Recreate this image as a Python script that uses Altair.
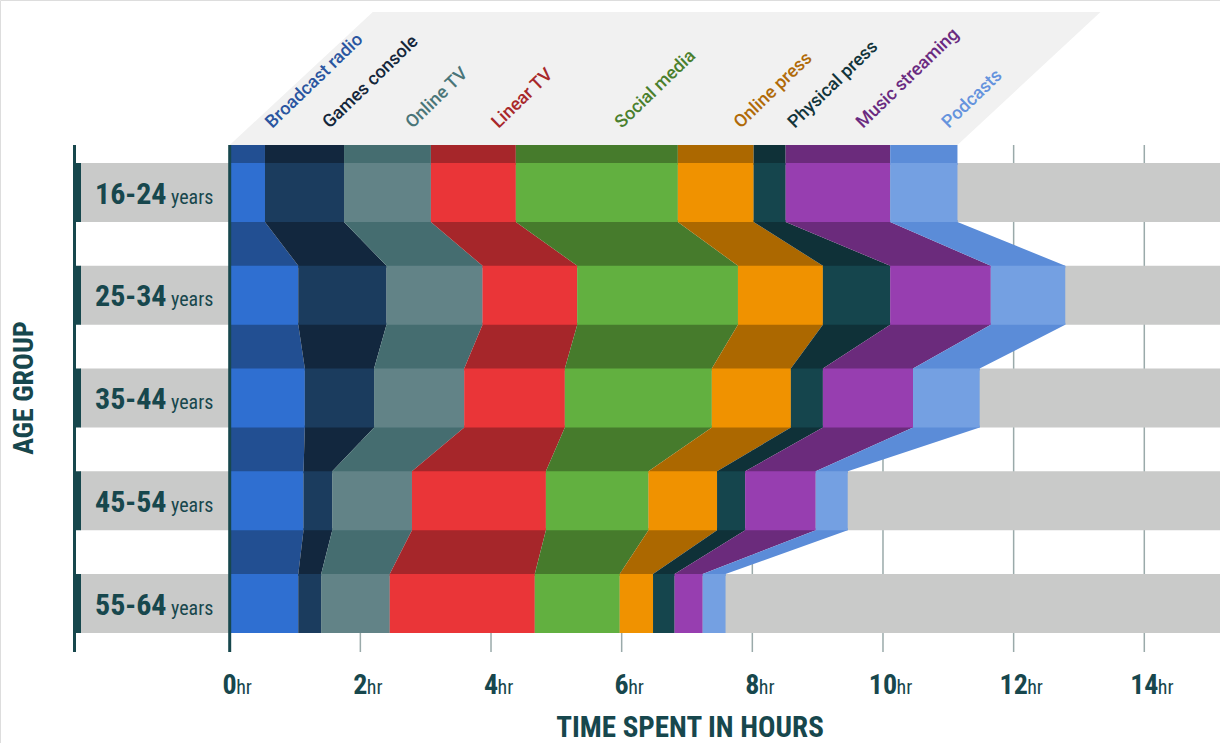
import altair as alt
import numpy as np
import pandas as pd

# ---------------- data ----------------
age_groups = ["16-24", "25-34", "35-44", "45-54", "55-64"]
media = ["Broadcast radio", "Games console", "Online TV", "Linear TV", "Social media",
         "Online press", "Physical press", "Music streaming", "Podcasts"]
# hours per day, one value per age group (16-24 ... 55-64)
broadcast_radio = [0.54, 1.05, 1.15, 1.13, 1.05]
games_console = [1.21, 1.35, 1.06, 0.44, 0.35]
online_tv = [1.33, 1.47, 1.38, 1.22, 1.05]
linear_tv = [1.30, 1.45, 1.54, 2.05, 2.22]
social_media = [2.48, 2.46, 2.25, 1.57, 1.30]
online_press = [1.16, 1.30, 1.21, 1.05, 0.51]
physical_press = [0.49, 1.03, 0.49, 0.43, 0.33]
music_streaming = [1.60, 1.54, 1.38, 1.08, 0.43]
podcasts = [1.03, 1.14, 1.02, 0.49, 0.35]
x_ticks = [0, 2, 4, 6, 8, 10, 12, 14]

series = [broadcast_radio, games_console, online_tv, linear_tv, social_media,
          online_press, physical_press, music_streaming, podcasts]

# ---------------- style ----------------
light = ["#2f6fd1", "#1b3c5e", "#628387", "#ea3538", "#62b040",
         "#f09200", "#15454d", "#973eb0", "#74a0e2"]
dark = ["#224f92", "#12273e", "#456d70", "#a6262a", "#467b2c",
        "#ac6800", "#0f3138", "#6b2b7c", "#5b8cd8"]
label_col = ["#2a55a0", "#14263a", "#4a7578", "#a8282a", "#4a7f2d",
             "#b06a08", "#12343a", "#6a2a80", "#6593dd"]
TEAL = "#17474d"
GRAY_BAR = "#c9cac9"
GRID = "#9aaaaa"
NARROW = "'Liberation Sans Narrow', 'Roboto Condensed', Roboto, sans-serif"

ROW_PX0, ROW_PITCH = 192.5, 102.75
def row_of_px(px):
    return (px - ROW_PX0) / ROW_PITCH

H = 29.5 / ROW_PITCH          # half bar height in row units
TOP = row_of_px(145)          # top of stack
BOTTOM = row_of_px(652)       # bottom of grid/ticks
EPS = 0.02

XS = alt.Scale(domain=[0, 14], range=[229.7, 1144.3], nice=False, zero=False)
YS = alt.Scale(domain=[0, 4], range=[ROW_PX0, ROW_PX0 + 4 * ROW_PITCH], nice=False, zero=False)

vals = np.array(series)                 # (media, age)
ends = np.cumsum(vals, axis=0)
starts = ends - vals

# bars
bar_rows = []
for ci, m in enumerate(media):
    for gi in range(len(age_groups)):
        bar_rows.append(dict(media=m, row=gi, y=gi - H, y2=gi + H,
                             x=float(starts[ci, gi]), x2=float(ends[ci, gi]), c=light[ci]))
bars_df = pd.DataFrame(bar_rows)

# connecting bands
band_rows = []
for ci, m in enumerate(media):
    for g in range(len(age_groups) - 1):
        key = f"{m}-{g}"
        for yy, k in [(g + H - EPS, g), (g + H, g), (g + 1 - H, g + 1), (g + 1 - H + EPS, g + 1)]:
            band_rows.append(dict(key=key, y=float(yy), x=float(starts[ci, k]),
                                  x2=float(ends[ci, k]), c=dark[ci]))
bands_df = pd.DataFrame(band_rows)

top_df = pd.DataFrame(dict(media=media, x=starts[:, 0], x2=ends[:, 0], y=TOP, y2=-H + EPS, c=dark))

total0 = float(ends[-1, 0])
SLANT = 2.19
header_df = pd.DataFrame(dict(key=["h", "h"], y=[row_of_px(12), TOP], x=[SLANT, 0.0],
                              x2=[total0 + SLANT, total0]))

lab_df = pd.DataFrame(dict(media=media, x=(starts[:, 0] + ends[:, 0]) / 2, c=label_col))

rows_df = pd.DataFrame(dict(age=age_groups, row=list(range(len(age_groups)))))
rows_df["y"] = rows_df["row"] - H
rows_df["y2"] = rows_df["row"] + H
rows_df["years"] = "years"

ticks_df = pd.DataFrame(dict(v=x_ticks))
ticks_df["lab"] = ticks_df["v"].astype(str)
ticks_df["hr"] = "hr"
ticks_df["yt"] = TOP
ticks_df["y2"] = BOTTOM

noax = dict(axis=None)

header = alt.Chart(header_df).mark_area(orient="horizontal", color="#f1f1f1").encode(
    y=alt.Y("y:Q", scale=YS, **noax), x=alt.X("x:Q", scale=XS, **noax), x2="x2:Q",
    detail="key:N")

grid = alt.Chart(ticks_df[ticks_df.v > 0]).mark_rule(color=GRID, strokeWidth=1.5).encode(
    x=alt.X("v:Q", scale=XS, **noax), y=alt.Y("yt:Q", scale=YS, **noax), y2="y2:Q")

gray = alt.Chart(rows_df).mark_rect(color=GRAY_BAR).encode(
    x=alt.value(80), x2=alt.value(1220),
    y=alt.Y("y:Q", scale=YS, **noax), y2="y2:Q")

left_line = alt.Chart(rows_df.head(1)).mark_rule(color=TEAL, strokeWidth=3).encode(
    x=alt.value(74.5), y=alt.value(145), y2=alt.value(652))
left_tabs = alt.Chart(rows_df).mark_rect(color=TEAL).encode(
    x=alt.value(73), x2=alt.value(81),
    y=alt.Y("y:Q", scale=YS, **noax), y2="y2:Q")

bands = alt.Chart(bands_df).mark_area(orient="horizontal").encode(
    y=alt.Y("y:Q", scale=YS, **noax), x=alt.X("x:Q", scale=XS, **noax), x2="x2:Q",
    detail="key:N", color=alt.Color("c:N", scale=None))

top = alt.Chart(top_df).mark_rect().encode(
    x=alt.X("x:Q", scale=XS, **noax), x2="x2:Q",
    y=alt.Y("y:Q", scale=YS, **noax), y2="y2:Q",
    color=alt.Color("c:N", scale=None))

bars = alt.Chart(bars_df).mark_rect().encode(
    x=alt.X("x:Q", scale=XS, **noax), x2="x2:Q",
    y=alt.Y("y:Q", scale=YS, **noax), y2="y2:Q",
    color=alt.Color("c:N", scale=None))

zero = alt.Chart(ticks_df[ticks_df.v == 0]).mark_rule(color=TEAL, strokeWidth=3).encode(
    x=alt.X("v:Q", scale=XS, **noax), y=alt.Y("yt:Q", scale=YS, **noax), y2="y2:Q")

cat_labels = alt.Chart(lab_df).mark_text(
    angle=316, align="left", baseline="alphabetic", xOffset=25, font="Roboto",
    fontSize=18, fontWeight=500).encode(
    x=alt.X("x:Q", scale=XS, **noax), y=alt.value(129), text="media:N",
    color=alt.Color("c:N", scale=None))

age_num = alt.Chart(rows_df).mark_text(
    align="left", baseline="alphabetic", dy=11, font=NARROW, fontSize=30,
    fontWeight="bold", color=TEAL).encode(
    x=alt.value(95), y=alt.Y("row:Q", scale=YS, **noax), text="age:N")
age_yrs = alt.Chart(rows_df).mark_text(
    align="left", baseline="alphabetic", dy=11, font=NARROW, fontSize=20,
    color=TEAL).encode(
    x=alt.value(171), y=alt.Y("row:Q", scale=YS, **noax), text="years:N")

tick_num = alt.Chart(ticks_df).mark_text(
    align="center", baseline="alphabetic", font=NARROW, fontSize=28,
    fontWeight="bold", color=TEAL).encode(
    x=alt.X("v:Q", scale=XS, **noax), y=alt.value(694), text="lab:N")
tick_hr1 = alt.Chart(ticks_df[ticks_df.v < 10]).mark_text(
    align="left", baseline="alphabetic", dx=6.5, font=NARROW, fontSize=20,
    color=TEAL).encode(
    x=alt.X("v:Q", scale=XS, **noax), y=alt.value(694), text="hr:N")
tick_hr2 = alt.Chart(ticks_df[ticks_df.v >= 10]).mark_text(
    align="left", baseline="alphabetic", dx=13.5, font=NARROW, fontSize=20,
    color=TEAL).encode(
    x=alt.X("v:Q", scale=XS, **noax), y=alt.value(694), text="hr:N")

x_title = alt.Chart(pd.DataFrame(dict(t=["TIME SPENT IN HOURS"]))).mark_text(
    align="center", baseline="alphabetic", font=NARROW, fontSize=29,
    fontWeight="bold", color=TEAL).encode(
    x=alt.value(690), y=alt.value(737), text="t:N")
y_title = alt.Chart(pd.DataFrame(dict(t=["AGE GROUP"]))).mark_text(
    align="center", baseline="middle", angle=270, font=NARROW, fontSize=28,
    fontWeight="bold", color=TEAL).encode(
    x=alt.value(25), y=alt.value(388), text="t:N")

chart = alt.layer(
    header, grid, gray, left_line, left_tabs, bands, top, bars, zero,
    cat_labels, age_num, age_yrs, tick_num, tick_hr1, tick_hr2, x_title, y_title
).properties(
    width=1220, height=743, padding=0,
    autosize=alt.AutoSizeParams(type="none")
).configure_view(strokeWidth=0).configure(background="white")

chart.save("out.html", embed_options={"renderer": "svg", "actions": False})
